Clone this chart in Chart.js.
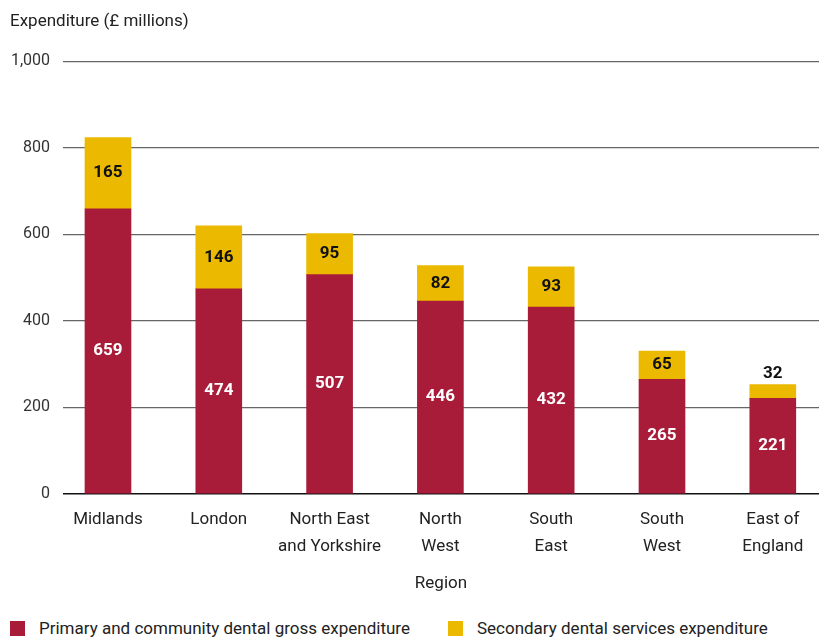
<!DOCTYPE html>
<html>
<head>
<meta charset="utf-8">
<script src="https://cdn.jsdelivr.net/npm/chart.js@4.4.1/dist/chart.umd.min.js"></script>
<style>
  html, body { margin: 0; padding: 0; background: #fff; }
  #caixa { position: relative; width: 819px; height: 638px; overflow: hidden; }
  .legenda { position: absolute; top: 618px; left: 10px; display: flex; font: 17px Roboto, sans-serif; color: #222; }
  .legenda span.item { display: flex; align-items: center; }
  .legenda i { display: inline-block; width: 15px; height: 15px; margin-right: 14px; }
</style>
</head>
<body>
<div id="caixa">
  <canvas id="grafico" width="819" height="594"></canvas>
  <div class="legenda" id="legenda"></div>
</div>
<script>
const regioes = ["Midlands", "London", ["North East", "and Yorkshire"], ["North", "West"], ["South", "East"], ["South", "West"], ["East of", "England"]];
const primaria = [659, 474, 507, 446, 432, 265, 221];
const secundaria = [165, 146, 95, 82, 93, 65, 32];
const ticksY = [0, 200, 400, 600, 800, 1000];

const corPrimaria = "#a81c3a";
const corSecundaria = "#ebba00";
const fonte = "Roboto, sans-serif";

// rótulos de valor dentro de cada segmento (ou acima, se o segmento for baixo)
const rotulosValor = {
  id: "rotulosValor",
  afterDatasetsDraw(chart) {
    const ctx = chart.ctx;
    ctx.save();
    ctx.font = "bold 17px " + fonte;
    ctx.textAlign = "center";
    ctx.textBaseline = "middle";
    chart.data.datasets.forEach((ds, d) => {
      chart.getDatasetMeta(d).data.forEach((bar, i) => {
        const altura = Math.abs(bar.base - bar.y);
        let y = (bar.y + bar.base) / 2;
        let cor = d === 0 ? "#fff" : "#111";
        if (altura < 20) { y = bar.y - 11; cor = "#111"; }
        ctx.fillStyle = cor;
        ctx.fillText(ds.data[i].y, bar.x, y);
      });
    });
    ctx.restore();
  }
};

const ctx = document.getElementById("grafico").getContext("2d");
const grafico = new Chart(ctx, {
  type: "bar",
  data: {
    datasets: [
      {
        label: "Primary and community dental gross expenditure",
        data: primaria.map((v, i) => ({ x: i, y: v })),
        backgroundColor: corPrimaria,
        barThickness: 46
      },
      {
        label: "Secondary dental services expenditure",
        data: secundaria.map((v, i) => ({ x: i, y: v })),
        backgroundColor: corSecundaria,
        barThickness: 46
      }
    ]
  },
  options: {
    responsive: false,
    animation: false,
    layout: { padding: { left: 10, right: 0, top: 0, bottom: 0 } },
    plugins: {
      legend: { display: false },
      tooltip: { enabled: false },
      title: {
        display: true,
        text: "Expenditure (£ millions)",
        align: "start",
        color: "#222",
        font: { family: fonte, size: 17, weight: "normal" },
        padding: { top: 12, bottom: 29 }
      }
    },
    scales: {
      x: {
        type: "linear",
        stacked: true,
        offset: false,
        min: -0.406,
        max: 6.417,
        afterBuildTicks(scale) {
          scale.ticks = regioes.map((_, i) => ({ value: i }));
        },
        grid: { display: false, drawTicks: false },
        border: { display: false },
        ticks: {
          color: "#222",
          font: { family: fonte, size: 17, lineHeight: 1.55 },
          padding: 13,
          maxRotation: 0,
          autoSkip: false,
          callback: (v) => regioes[v]
        },
        title: {
          display: true,
          text: "Region",
          color: "#222",
          font: { family: fonte, size: 17 },
          padding: { top: 1, bottom: 0 }
        }
      },
      y: {
        stacked: true,
        min: 0,
        max: 1000,
        afterBuildTicks(scale) {
          scale.ticks = ticksY.map((v) => ({ value: v }));
        },
        afterFit(scale) {
          scale.width = 53;
        },
        border: { display: false },
        grid: {
          drawTicks: false,
          color: (c) => (c.tick && c.tick.value === 0 ? "#111" : "#666"),
          lineWidth: (c) => (c.tick && c.tick.value === 0 ? 1.6 : 1.2)
        },
        ticks: {
          color: "#333",
          font: { family: fonte, size: 16 },
          padding: 13,
          callback: (v) => v.toLocaleString("en-GB")
        }
      }
    }
  },
  plugins: [rotulosValor]
});

// legenda em HTML, mesma ordem dos datasets
const legenda = document.getElementById("legenda");
grafico.data.datasets.forEach((ds, i) => {
  const item = document.createElement("span");
  item.className = "item";
  item.style.marginRight = i === 0 ? "38px" : "0";
  item.innerHTML = `<i style="background:${ds.backgroundColor}"></i>${ds.label}`;
  legenda.appendChild(item);
});
</script>
</body>
</html>
